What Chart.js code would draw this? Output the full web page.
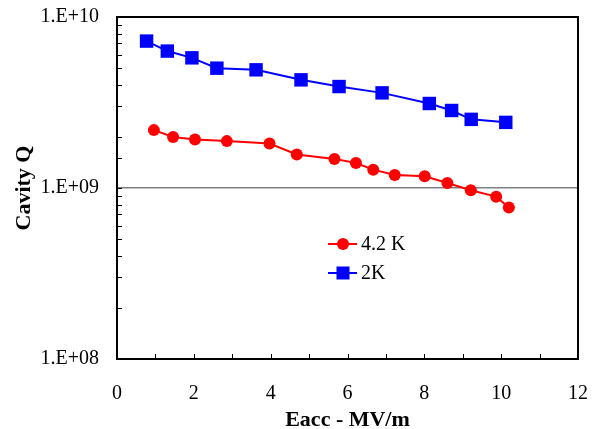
<!DOCTYPE html>
<html>
<head>
<meta charset="utf-8">
<script src="https://cdn.jsdelivr.net/npm/chart.js@4.4.1/dist/chart.umd.min.js"></script>
<style>
  html, body { margin: 0; padding: 0; background: #fff; }
  #wrap { width: 596px; height: 429px; }
</style>
</head>
<body>
<div id="wrap"><canvas id="c" width="596" height="429"></canvas></div>
<script>
// ── DATOS ─────────────────────────────────────────────
const LABEL_42K = '4.2 K';
const LABEL_2K  = '2K';

const eaccRed = [0.96, 1.46, 2.03, 2.86, 3.97, 4.68, 5.66, 6.22, 6.67, 7.23, 8.01, 8.60, 9.21, 9.87, 10.20];
const qRed    = [2.18e9, 1.99e9, 1.92e9, 1.88e9, 1.82e9, 1.57e9, 1.48e9, 1.40e9, 1.28e9, 1.19e9, 1.17e9, 1.07e9, 9.7e8, 8.9e8, 7.7e8];

const eaccBlue = [0.77, 1.31, 1.95, 2.60, 3.62, 4.79, 5.78, 6.90, 8.13, 8.71, 9.22, 10.12];
const qBlue    = [7.23e9, 6.32e9, 5.77e9, 5.02e9, 4.91e9, 4.29e9, 3.92e9, 3.60e9, 3.12e9, 2.84e9, 2.52e9, 2.42e9];

const X_MIN = 0, X_MAX = 12, X_STEP = 1, X_LABEL_EVERY = 2;
const Y_MIN = 1e8, Y_MAX = 1e10;

const toPts = (xs, ys) => xs.map((x, i) => ({ x, y: ys[i] }));

function fmtQ(v) {
  const e = Math.log10(v);
  if (Math.abs(e - Math.round(e)) > 1e-9) return '';
  const n = Math.round(e);
  return '1.E' + (n >= 0 ? '+' : '-') + String(Math.abs(n)).padStart(2, '0');
}

// sin relleno extra por desbordamiento de etiquetas
function noOverflow(s) {
  s.paddingTop = 0; s.paddingBottom = 0; s.paddingLeft = 0; s.paddingRight = 0;
}

// ── MARCO, TICKS INTERIORES Y LEYENDA ─────────────────
const framePlugin = {
  id: 'frame',
  beforeDatasetsDraw(chart) {
    const { ctx, chartArea: a, scales: { x, y } } = chart;
    ctx.save();
    ctx.strokeStyle = '#000';
    ctx.lineWidth = 1;
    // ticks del eje X (hacia dentro)
    x.ticks.forEach(t => {
      const px = Math.round(x.getPixelForValue(t.value)) + 0.5;
      ctx.beginPath(); ctx.moveTo(px, a.bottom); ctx.lineTo(px, a.bottom - 5); ctx.stroke();
    });
    // ticks del eje Y (log, hacia dentro)
    y.ticks.forEach(t => {
      const py = Math.round(y.getPixelForValue(t.value)) + 0.5;
      ctx.beginPath(); ctx.moveTo(a.left, py); ctx.lineTo(a.left + 5, py); ctx.stroke();
    });
    ctx.lineWidth = 2;
    ctx.strokeRect(a.left, a.top, a.right - a.left, a.bottom - a.top);
    ctx.restore();
  },
  afterDraw(chart) {
    const { ctx } = chart;
    const items = chart.data.datasets;
    ctx.save();
    ctx.font = '20px "Liberation Serif", "Times New Roman", serif';
    ctx.textBaseline = 'middle';
    items.forEach((ds, i) => {
      const ly = 244 + i * 29;
      ctx.strokeStyle = ds.borderColor;
      ctx.lineWidth = 2;
      ctx.beginPath(); ctx.moveTo(328, ly); ctx.lineTo(357, ly); ctx.stroke();
      ctx.fillStyle = ds.backgroundColor;
      if (ds.pointStyle === 'rect') {
        ctx.fillRect(343 - 6.5, ly - 6.5, 13, 13);
      } else {
        ctx.beginPath(); ctx.arc(343, ly, 6, 0, Math.PI * 2); ctx.fill();
      }
      ctx.fillStyle = '#000';
      ctx.fillText(ds.label, 361, ly + 1);
    });
    ctx.restore();
  }
};

new Chart(document.getElementById('c'), {
  type: 'line',
  data: {
    datasets: [
      {
        label: LABEL_42K,
        data: toPts(eaccRed, qRed),
        borderColor: '#FF0000',
        backgroundColor: '#FF0000',
        borderWidth: 2,
        pointStyle: 'circle',
        pointRadius: 6,
        pointBorderWidth: 0,
        tension: 0,
      },
      {
        label: LABEL_2K,
        data: toPts(eaccBlue, qBlue),
        borderColor: '#0000FF',
        backgroundColor: '#0000FF',
        borderWidth: 2,
        pointStyle: 'rect',
        pointRadius: 9.5,
        pointBorderWidth: 0,
        tension: 0,
      },
    ]
  },
  plugins: [framePlugin],
  options: {
    responsive: false,
    animation: false,
    layout: { padding: { top: 17, right: 18, left: 0, bottom: 0 } },
    plugins: { legend: { display: false }, tooltip: { enabled: false } },
    scales: {
      x: {
        type: 'linear',
        min: X_MIN, max: X_MAX,
        afterFit(s) { s.height = 70; noOverflow(s); },
        grid: { display: false, drawTicks: false },
        border: { display: false },
        ticks: {
          stepSize: X_STEP,
          autoSkip: false,
          maxRotation: 0,
          padding: 23,
          color: '#000',
          font: { family: '"Liberation Serif", "Times New Roman", serif', size: 20 },
          callback: v => (v % X_LABEL_EVERY === 0 ? String(v) : ''),
        },
        title: {
          display: true,
          text: 'Eacc - MV/m',
          color: '#000',
          font: { family: '"Liberation Serif", "Times New Roman", serif', size: 22, weight: 'bold', lineHeight: 1 },
          padding: { top: 0, bottom: -2 },
        },
      },
      y: {
        type: 'logarithmic',
        min: Y_MIN, max: Y_MAX,
        afterFit(s) { s.width = 117; noOverflow(s); },
        grid: {
          drawTicks: false,
          lineWidth: 1.5,
          color: c => (c.tick && Math.abs(c.tick.value - 1e9) < 1 ? '#808080' : 'rgba(0,0,0,0)'),
        },
        border: { display: false },
        ticks: {
          autoSkip: false,
          padding: 18,
          color: '#000',
          font: { family: '"Liberation Serif", "Times New Roman", serif', size: 20 },
          callback: v => fmtQ(v),
        },
        title: {
          display: true,
          text: 'Cavity Q',
          color: '#000',
          font: { family: '"Liberation Serif", "Times New Roman", serif', size: 22, weight: 'bold', lineHeight: 1 },
          padding: { top: 13, bottom: 0 },
        },
      },
    },
  },
});
</script>
</body>
</html>
